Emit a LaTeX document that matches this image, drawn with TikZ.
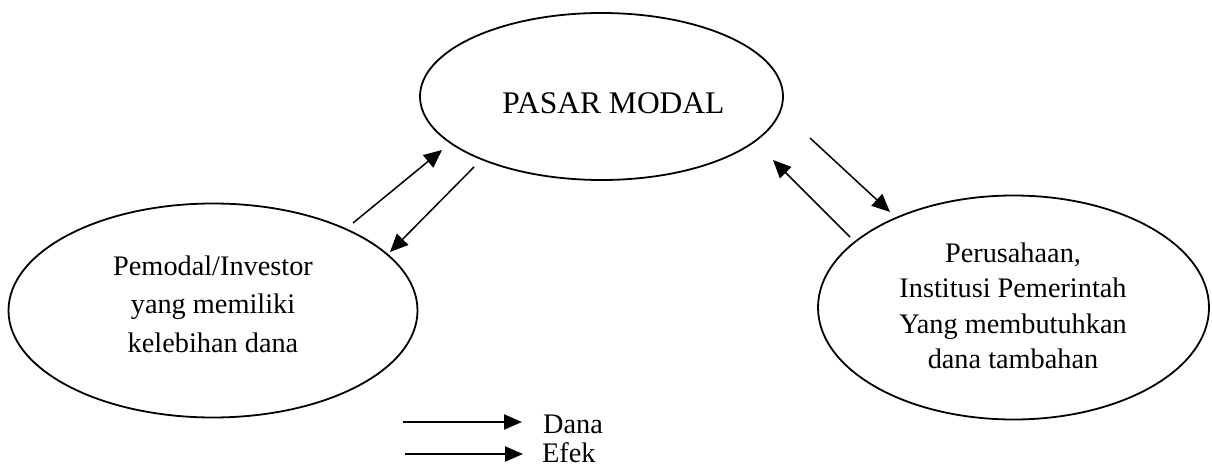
\documentclass[tikz,border=0pt]{standalone}
\usepackage{fontspec}
\setmainfont{Liberation Serif}
\usetikzlibrary{shapes.geometric,arrows.meta}
\begin{document}
\begin{tikzpicture}[x=1pt,y=-1pt,
  oval/.style={draw,ellipse,line width=1.8pt,inner sep=0pt},
  label/.style={font=\fontsize{28.3}{37.5}\selectfont,align=center,inner sep=0pt},
  flow/.style={line width=1.5pt,-{Triangle[length=18pt,width=16pt]}},
  keyarrow/.style={line width=2.2pt,-{Triangle[length=18pt,width=15pt]}}]
\useasboundingbox (0,0) rectangle (1212,468);
% ellipses
\node[oval,minimum width=363pt,minimum height=167pt] (pasar) at (601.5,96.5) {};
\node[label,font=\fontsize{31.5}{38}\selectfont] (pasart) at (613.5,103) {PASAR MODAL};
\node[oval,minimum width=409pt,minimum height=214pt] (inv) at (213,310.5) {};
\node[label,font=\fontsize{28.3}{38.5}\selectfont] (invt) at (213,304) {Pemodal/Investor\\yang memiliki\\kelebihan dana};
\node[oval,minimum width=391pt,minimum height=224pt] (prs) at (1013.5,307.5) {};
\node[label,font=\fontsize{28.3}{35.5}\selectfont] (prst) at (1013,306) {Perusahaan,\\Institusi Pemerintah\\Yang membutuhkan\\dana tambahan};
% connector end points
\coordinate (a1) at (353,223); \coordinate (b1) at (442,150);
\coordinate (a2) at (474,167); \coordinate (b2) at (390,252);
\coordinate (a3) at (810,138); \coordinate (b3) at (890,212);
\coordinate (a4) at (850,237); \coordinate (b4) at (773,160);
\draw[flow] (a1) -- (b1);
\draw[flow] (a2) -- (b2);
\draw[flow] (a3) -- (b3);
\draw[flow] (a4) -- (b4);
% legend
\coordinate (k1a) at (403,422); \coordinate (k1b) at (522,422);
\coordinate (k2a) at (405,454); \coordinate (k2b) at (523,454);
\draw[keyarrow] (k1a) -- (k1b);
\draw[keyarrow] (k2a) -- (k2b);
\node[label,anchor=base west] (dana) at (543,433) {Dana};
\node[label,anchor=base west] (efek) at (542,462) {Efek};
\end{tikzpicture}
\end{document}
